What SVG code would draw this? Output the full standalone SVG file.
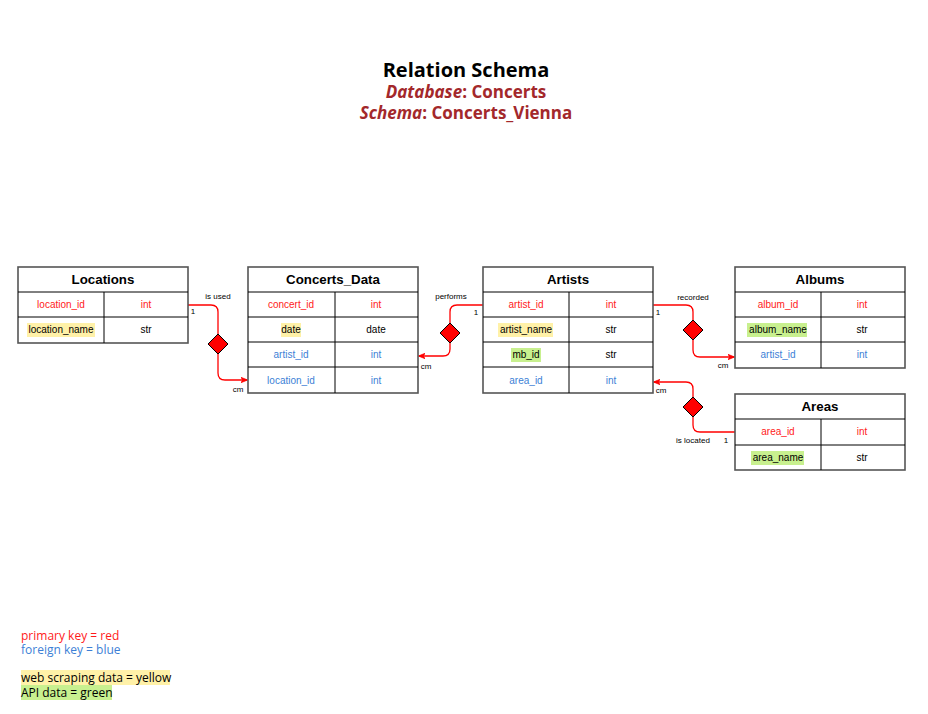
<svg xmlns="http://www.w3.org/2000/svg" width="928" height="714" viewBox="0 0 928 714">
<style>
.tbl{fill:#fff;stroke:#555;stroke-width:1.6}
.ln{stroke:#000;stroke-width:1}
.hd{font-family:"Liberation Sans",Arial,sans-serif;font-size:13.3px;font-weight:bold;fill:#000;text-anchor:middle}
.c{font-family:"Liberation Sans",Arial,sans-serif;font-size:10px;fill:#000;text-anchor:middle}
.pk{fill:#FF1A1A}
.fk{fill:#3C7FD6}
.yel{fill:#FFF1A8}
.grn{fill:#C8F08F}
.conn{fill:none;stroke:#FF0000;stroke-width:1.3}
.dia{fill:#FF0000;stroke:#000;stroke-width:1}
.lbl{font-family:"Liberation Sans",Arial,sans-serif;font-size:8px;fill:#000;text-anchor:middle}
.ttl{font-family:"Open Sans",sans-serif;font-weight:bold;text-anchor:middle}
.lg{font-family:"Open Sans",sans-serif;font-size:12px}
</style>
<defs>
<marker id="arr" viewBox="0 0 10 10" refX="9" refY="5" markerWidth="7" markerHeight="7" orient="auto" markerUnits="userSpaceOnUse">
<path d="M0,1 L10,5 L0,9 L3,5 Z" fill="#FF0000" stroke="#FF0000"/>
</marker>
</defs>

<g id="title">
<text class="ttl" x="466" y="77" font-size="20" fill="#000">Relation Schema</text>
<text class="ttl" x="466" y="98" font-size="17" fill="#A3282B"><tspan font-style="italic">Database</tspan>: Concerts</text>
<text class="ttl" x="466" y="119" font-size="17" fill="#A3282B"><tspan font-style="italic">Schema</tspan>: Concerts_Vienna</text>
</g>

<g id="connectors">
<path class="conn" d="M188,305 H211 Q218,305 218,312 V373 Q218,380 225,380 H247" marker-end="url(#arr)"/>
<path class="conn" d="M483,305 H457 Q450,305 450,312 V349 Q450,356 443,356 H419" marker-end="url(#arr)"/>
<path class="conn" d="M653,305 H686 Q693,305 693,312 V350 Q693,357 700,357 H734" marker-end="url(#arr)"/>
<path class="conn" d="M735,432 H700 Q693,432 693,425 V389 Q693,382 686,382 H654" marker-end="url(#arr)"/>
<path class="dia" d="M218,334 L228,344 L218,354 L208,344 Z"/>
<path class="dia" d="M450,323 L460,333 L450,343 L440,333 Z"/>
<path class="dia" d="M693,320 L703,330 L693,340 L683,330 Z"/>
<path class="dia" d="M693,397 L703,407 L693,417 L683,407 Z"/>
<text class="lbl" x="218" y="299">is used</text>
<text class="lbl" x="193" y="314">1</text>
<text class="lbl" x="238" y="392">cm</text>
<text class="lbl" x="451" y="299">performs</text>
<text class="lbl" x="476" y="315">1</text>
<text class="lbl" x="426" y="369">cm</text>
<text class="lbl" x="693" y="300">recorded</text>
<text class="lbl" x="658" y="315">1</text>
<text class="lbl" x="723" y="368">cm</text>
<text class="lbl" x="693" y="443">is located</text>
<text class="lbl" x="726" y="443">1</text>
<text class="lbl" x="661" y="393">cm</text>
</g>

<g id="Locations">
<rect class="tbl" x="18" y="267" width="170" height="76"/>
<line class="ln" x1="18" y1="292" x2="188" y2="292"/>
<line class="ln" x1="18" y1="317" x2="188" y2="317"/>
<line class="ln" x1="104" y1="292" x2="104" y2="343"/>
<text class="hd" x="103" y="284">Locations</text>
<text class="c pk" x="61" y="308">location_id</text>
<text class="c pk" x="146" y="308">int</text>
<rect class="yel" x="27" y="323" width="68" height="14"/>
<text class="c" x="61" y="333">location_name</text>
<text class="c" x="146" y="333">str</text>
</g>

<g id="Concerts_Data">
<rect class="tbl" x="248" y="267" width="170" height="126"/>
<line class="ln" x1="248" y1="292" x2="418" y2="292"/>
<line class="ln" x1="248" y1="317" x2="418" y2="317"/>
<line class="ln" x1="248" y1="342" x2="418" y2="342"/>
<line class="ln" x1="248" y1="367" x2="418" y2="367"/>
<line class="ln" x1="335" y1="292" x2="335" y2="393"/>
<text class="hd" x="333" y="284">Concerts_Data</text>
<text class="c pk" x="291" y="308">concert_id</text>
<text class="c pk" x="376" y="308">int</text>
<rect class="yel" x="281" y="323" width="20" height="14"/>
<text class="c" x="291" y="333">date</text>
<text class="c" x="376" y="333">date</text>
<text class="c fk" x="291" y="358">artist_id</text>
<text class="c fk" x="376" y="358">int</text>
<text class="c fk" x="291" y="384">location_id</text>
<text class="c fk" x="376" y="384">int</text>
</g>

<g id="Artists">
<rect class="tbl" x="483" y="267" width="170" height="126"/>
<line class="ln" x1="483" y1="292" x2="653" y2="292"/>
<line class="ln" x1="483" y1="317" x2="653" y2="317"/>
<line class="ln" x1="483" y1="342" x2="653" y2="342"/>
<line class="ln" x1="483" y1="367" x2="653" y2="367"/>
<line class="ln" x1="569" y1="292" x2="569" y2="393"/>
<text class="hd" x="568" y="284">Artists</text>
<text class="c pk" x="526" y="308">artist_id</text>
<text class="c pk" x="611" y="308">int</text>
<rect class="yel" x="498" y="323" width="55" height="14"/>
<text class="c" x="526" y="333">artist_name</text>
<text class="c" x="611" y="333">str</text>
<rect class="grn" x="511" y="348" width="30" height="14"/>
<text class="c" x="526" y="358">mb_id</text>
<text class="c" x="611" y="358">str</text>
<text class="c fk" x="526" y="384">area_id</text>
<text class="c fk" x="611" y="384">int</text>
</g>

<g id="Albums">
<rect class="tbl" x="735" y="267" width="170" height="101"/>
<line class="ln" x1="735" y1="292" x2="905" y2="292"/>
<line class="ln" x1="735" y1="317" x2="905" y2="317"/>
<line class="ln" x1="735" y1="342" x2="905" y2="342"/>
<line class="ln" x1="821" y1="292" x2="821" y2="368"/>
<text class="hd" x="820" y="284">Albums</text>
<text class="c pk" x="778" y="308">album_id</text>
<text class="c pk" x="862" y="308">int</text>
<rect class="grn" x="747" y="323" width="60" height="14"/>
<text class="c" x="778" y="333">album_name</text>
<text class="c" x="862" y="333">str</text>
<text class="c fk" x="778" y="358">artist_id</text>
<text class="c fk" x="862" y="358">int</text>
</g>

<g id="Areas">
<rect class="tbl" x="735" y="394" width="170" height="76"/>
<line class="ln" x1="735" y1="419" x2="905" y2="419"/>
<line class="ln" x1="735" y1="445" x2="905" y2="445"/>
<line class="ln" x1="821" y1="419" x2="821" y2="470"/>
<text class="hd" x="820" y="411">Areas</text>
<text class="c pk" x="778" y="435">area_id</text>
<text class="c pk" x="862" y="435">int</text>
<rect class="grn" x="751" y="451" width="53" height="14"/>
<text class="c" x="778" y="461">area_name</text>
<text class="c" x="862" y="461">str</text>
</g>

<g id="legend">
<text class="lg" x="21" y="640" fill="#FF1A1A">primary key = red</text>
<text class="lg" x="21" y="654" fill="#3C7FD6">foreign key = blue</text>
<rect class="yel" x="21" y="670" width="149" height="15"/>
<text class="lg" x="21" y="682" fill="#000">web scraping data = yellow</text>
<rect class="grn" x="21" y="685" width="91" height="15"/>
<text class="lg" x="21" y="697" fill="#000">API data = green</text>
</g>
</svg>
